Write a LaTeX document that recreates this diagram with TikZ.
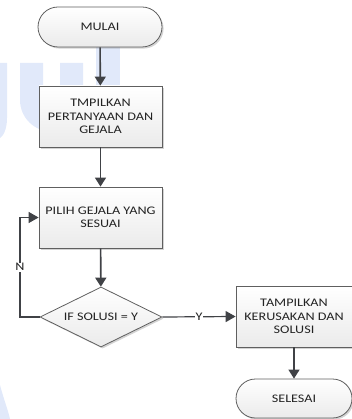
\documentclass[tikz,border=0pt]{standalone}
\usepackage{fontspec}
\setmainfont{Carlito}[FakeStretch=1.22]
\usetikzlibrary{shapes.geometric,arrows.meta,shadows}
\definecolor{wm}{RGB}{225,233,250}
\definecolor{lnc}{RGB}{64,66,70}
\definecolor{bdc}{RGB}{95,95,95}
\definecolor{txc}{RGB}{35,35,35}
\tikzset{
  boxbase/.style={draw=bdc, line width=0.8pt, top color=white, bottom color=gray!16,
    drop shadow={shadow xshift=1.6pt, shadow yshift=-1.6pt, opacity=0.35, fill=gray},
    text=txc, align=center, font=\fontsize{11.6}{13.3}\selectfont, inner sep=0pt},
  procbox/.style={boxbase, rectangle},
  termbox/.style={boxbase, rectangle, rounded corners=19.5pt},
  decbox/.style={boxbase, diamond, aspect=2},
  conn/.style={draw=lnc, line width=1.6pt, -{Triangle[width=11pt,length=9pt]}},
  thinconn/.style={draw=lnc, line width=1.2pt},
  lbl/.style={fill=white, text=txc, inner sep=1pt, font=\fontsize{11.6}{13.3}\selectfont}
}
\begin{document}
\begin{tikzpicture}[x=1pt,y=-1pt]
\useasboundingbox (0,0) rectangle (352,419);
% watermark
\fill[wm] (0,63) -- (7,63) -- (7,118) .. controls (7,130) and (3,136) .. (0,138) -- cycle;
\fill[wm] (20,63) -- (43,63) -- (43,100) arc[start angle=180, end angle=0, x radius=8.5, y radius=-8.5] -- (60,63) -- (83,63) -- (83,100) arc[start angle=0, end angle=180, x radius=31.5, y radius=31.5] -- cycle;
\fill[wm] (96,35) rectangle (120,130);
\fill[wm] (0,385) .. controls (4,400) and (8,410) .. (10,419) -- (0,419) -- cycle;
% nodes
\node[termbox, minimum width=124pt, minimum height=40pt, rounded corners=20pt] (start) at (100,27) {MULAI};
\node[procbox, minimum width=123pt, minimum height=61pt] (b1) at (100.5,116.5) {TMPILKAN\\PERTANYAAN DAN\\GEJALA};
\node[procbox, minimum width=123pt, minimum height=61pt] (b2) at (100.5,217.5) {PILIH GEJALA YANG\\SESUAI};
\node[decbox, minimum width=122pt, minimum height=60pt] (dec) at (101,317) {IF SOLUSI = Y};
\node[procbox, minimum width=116pt, minimum height=61pt] (b3) at (294,316.5) {TAMPILKAN\\KERUSAKAN DAN\\SOLUSI};
\node[termbox, minimum width=116pt, minimum height=39pt] (stop) at (294,398.5) {SELESAI};
\coordinate (lc) at (20,317);
% connectors
\draw[conn] (start) -- (b1);
\draw[conn] (b1) -- (b2);
\draw[conn] (b2) -- (dec);
\draw[conn] (b3) -- (stop);
\draw[thinconn, -{Triangle[width=11pt,length=10pt]}] (dec.west) -- (lc) -- node[lbl]{N} (lc |- b2.west) -- (b2.west);
\draw[thinconn, -{Triangle[width=11pt,length=10pt]}] (dec.east) -- node[lbl]{Y} (b3.west);
\end{tikzpicture}
\end{document}
